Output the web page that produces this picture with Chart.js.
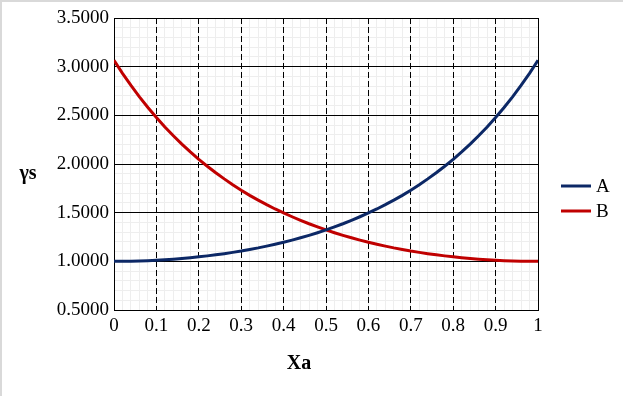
<!DOCTYPE html>
<html>
<head>
<meta charset="utf-8">
<script src="https://cdn.jsdelivr.net/npm/chart.js@4/dist/chart.umd.min.js"></script>
<style>
  body { margin: 0; background: #fff; }
  canvas { display: block; }
</style>
</head>
<body>
<canvas id="chart" width="623" height="396"></canvas>
<script>
// mole fraction of A (x axis)
const xa = [0, 0.02, 0.04, 0.06, 0.08, 0.1, 0.12, 0.14, 0.16, 0.18,
  0.2, 0.22, 0.24, 0.26, 0.28, 0.3, 0.32, 0.34, 0.36, 0.38,
  0.4, 0.42, 0.44, 0.46, 0.48, 0.5, 0.52, 0.54, 0.56, 0.58,
  0.6, 0.62, 0.64, 0.66, 0.68, 0.7, 0.72, 0.74, 0.76, 0.78,
  0.8, 0.82, 0.84, 0.86, 0.88, 0.9, 0.92, 0.94, 0.96, 0.98, 1];

const gammaA = [1.000, 1.000, 1.002, 1.004, 1.007, 1.011, 1.016, 1.022, 1.029, 1.037,
  1.046, 1.056, 1.067, 1.079, 1.092, 1.106, 1.122, 1.138, 1.156, 1.176,
  1.196, 1.218, 1.242, 1.267, 1.294, 1.323, 1.354, 1.386, 1.421, 1.458,
  1.497, 1.538, 1.582, 1.629, 1.678, 1.731, 1.787, 1.847, 1.910, 1.977,
  2.048, 2.124, 2.204, 2.290, 2.381, 2.477, 2.580, 2.690, 2.807, 2.932, 3.065];

const gammaB = [3.065, 2.932, 2.807, 2.690, 2.580, 2.477, 2.381, 2.290, 2.204, 2.124,
  2.048, 1.977, 1.910, 1.847, 1.787, 1.731, 1.678, 1.629, 1.582, 1.538,
  1.497, 1.458, 1.421, 1.386, 1.354, 1.323, 1.294, 1.267, 1.242, 1.218,
  1.196, 1.176, 1.156, 1.138, 1.122, 1.106, 1.092, 1.079, 1.067, 1.056,
  1.046, 1.037, 1.029, 1.022, 1.016, 1.011, 1.007, 1.004, 1.002, 1.000, 1.000];

const seriesNames = ['A', 'B'];
const seriesColors = ['#0c2866', '#c00000'];

const serif = "'Liberation Serif', 'Times New Roman', serif";

function points(ys) {
  return xa.map((x, i) => ({ x: x, y: ys[i] }));
}

// frame, plot border, legend and axis titles
const extras = {
  id: 'extras',
  beforeDraw(chart) {
    const ctx = chart.ctx;
    ctx.save();
    ctx.fillStyle = '#d9d9d9';
    ctx.fillRect(0, 0, chart.width, 2);
    ctx.fillRect(0, 0, 2, chart.height);
    ctx.restore();
  },
  beforeDatasetsDraw(chart) {
    const { ctx, chartArea: a } = chart;
    ctx.save();
    ctx.strokeStyle = '#000';
    ctx.lineWidth = 1;
    ctx.strokeRect(Math.round(a.left) + 0.5, Math.round(a.top) + 0.5,
      Math.round(a.right - a.left), Math.round(a.bottom - a.top));
    ctx.restore();
  },
  afterDraw(chart) {
    const ctx = chart.ctx;
    ctx.save();
    // legend
    ctx.font = '19px ' + serif;
    ctx.textBaseline = 'middle';
    ctx.fillStyle = '#000';
    chart.data.datasets.forEach((ds, i) => {
      const y = 186 + i * 25;
      ctx.strokeStyle = ds.borderColor;
      ctx.lineWidth = 3;
      ctx.beginPath();
      ctx.moveTo(561, y);
      ctx.lineTo(591, y);
      ctx.stroke();
      ctx.fillText(ds.label, 596, y + 1);
    });
    // axis titles
    ctx.font = 'bold 20px ' + serif;
    ctx.textBaseline = 'alphabetic';
    ctx.textAlign = 'center';
    ctx.fillText('γs', 28, 179);
    ctx.fillText('Xa', 299, 369);
    ctx.restore();
  }
};

new Chart(document.getElementById('chart'), {
  type: 'line',
  data: {
    datasets: seriesNames.map((name, i) => ({
      label: name,
      data: points(i === 0 ? gammaA : gammaB),
      borderColor: seriesColors[i],
      backgroundColor: seriesColors[i],
      borderWidth: 3,
      pointRadius: 0,
      tension: 0,
      xAxisID: 'x',
      yAxisID: 'y'
    }))
  },
  options: {
    responsive: false,
    animation: false,
    layout: { padding: { left: 54, right: 85, top: 18, bottom: 56 } },
    plugins: {
      legend: { display: false },
      tooltip: { enabled: false }
    },
    scales: {
      xMinor: {
        type: 'linear', position: 'bottom', min: 0, max: 1,
        ticks: { display: false, stepSize: 0.02, maxTicksLimit: 100 },
        grid: { color: '#eeeeee', drawTicks: false },
        border: { display: false },
        afterFit(s) { s.height = 0; }
      },
      yMinor: {
        type: 'linear', position: 'left', min: 0.5, max: 3.5,
        ticks: { display: false, stepSize: 0.1, maxTicksLimit: 100 },
        grid: { color: '#eeeeee', drawTicks: false },
        border: { display: false },
        afterFit(s) { s.width = 0; }
      },
      x: {
        type: 'linear', position: 'bottom', min: 0, max: 1,
        ticks: {
          stepSize: 0.1,
          padding: 5,
          color: '#000',
          font: { family: serif, size: 19 },
          callback: v => String(Number(v.toFixed(1)))
        },
        grid: { color: '#000', lineWidth: 1, drawTicks: false },
        border: { display: false, dash: [6, 3] },
        afterFit(s) { s.height = 30; }
      },
      y: {
        type: 'linear', position: 'left', min: 0.5, max: 3.5,
        ticks: {
          stepSize: 0.5,
          padding: 5,
          color: '#000',
          font: { family: serif, size: 19 },
          callback: v => v.toFixed(4)
        },
        grid: { color: '#000', lineWidth: 1, drawTicks: false },
        border: { display: false },
        afterFit(s) { s.width = 60; }
      }
    }
  },
  plugins: [extras]
});
</script>
</body>
</html>
